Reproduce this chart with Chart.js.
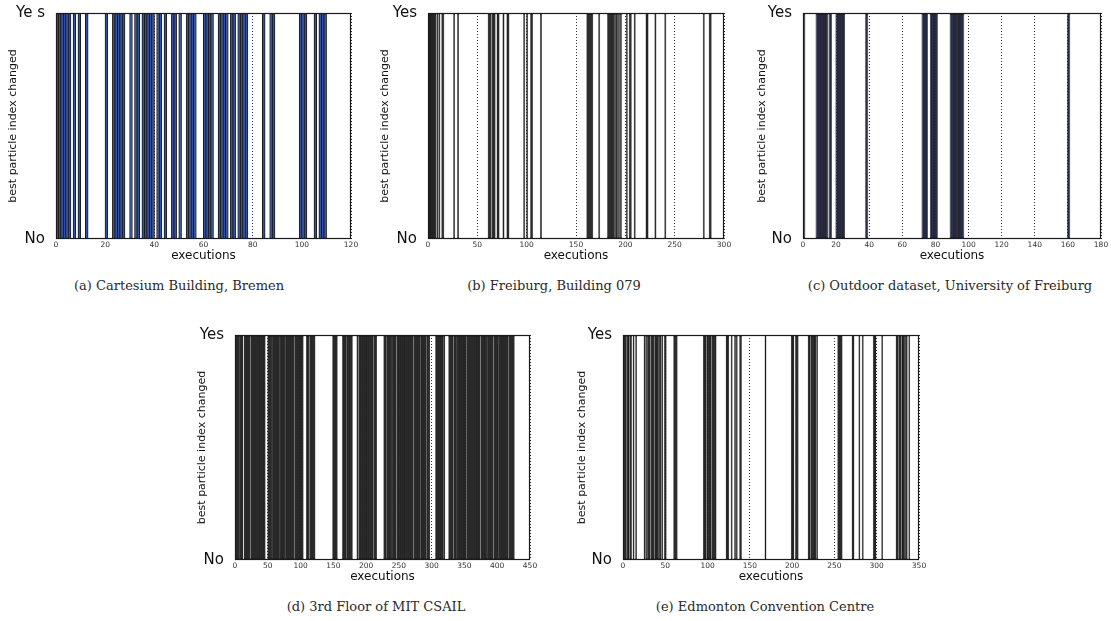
<!DOCTYPE html>
<html>
<head>
<meta charset="utf-8">
<script src="https://cdn.jsdelivr.net/npm/chart.js@4/dist/chart.umd.min.js"></script>
<style>
  body { margin: 0; width: 1111px; height: 621px; position: relative; overflow: hidden; background: #fff; }
  canvas { position: absolute; }
  .cap { position: absolute; font-family: "DejaVu Serif", serif; font-size: 13px; color: #2a2a2a; transform: translate(-50%, -50%); white-space: nowrap; }
</style>
</head>
<body>
<canvas id="chartA" width="367" height="264" style="left:-4px;top:1px"></canvas>
<canvas id="chartB" width="368" height="264" style="left:368px;top:1px"></canvas>
<canvas id="chartC" width="370" height="264" style="left:743px;top:1px"></canvas>
<canvas id="chartD" width="367" height="263" style="left:175px;top:323px"></canvas>
<canvas id="chartE" width="368" height="263" style="left:563px;top:323px"></canvas>

<div class="cap" style="left:179px;top:285px">(a) Cartesium Building, Bremen</div>
<div class="cap" style="left:554px;top:285px">(b) Freiburg, Building 079</div>
<div class="cap" style="left:950px;top:285px">(c) Outdoor dataset, University of Freiburg</div>
<div class="cap" style="left:376px;top:606px">(d) 3rd Floor of MIT CSAIL</div>
<div class="cap" style="left:765px;top:606px">(e) Edmonton Convention Centre</div>

<script>
// y tick labels (the first panel really says "Ye s")
const yLabels = ["No", "Yes"];
const yLabelsA = ["No", "Ye s"];

// executions where the best particle index changed
const cartesiumYes = [0,1,2,3,4,5,7,9,12,20,23,24,25,26,27,30,32,33,35,36,37,38,39,41,42,44,47,48,50,53,54,55,56,
  60,61,62,63,66,67,68,69,71,72,74,75,76,77,84,87,88,99,100,101,105,107,108,109];

const freiburgYes = [0,1,2,3,4,5,6,7,9,11,14,15,26,30,61,62,63,65,66,67,70,71,76,80,81,97,100,104,105,114,
  161,162,163,164,165,166,173,182,183,184,185,186,187,188,190,191,193,195,201,204,205,209,221,222,230,240,279,285,286];

const outdoorYes = [0,8,9,10,11,12,13,14,16,20,21,22,23,24,38,72,73,74,77,78,79,80,89,90,91,92,93,94,95,96,160];

const mitYes = [0,1,2,3,4,5,6,8,9,10,11,14,15,16,17,18,19,20,21,22,
  24,25,26,27,28,29,30,31,32,33,34,35,36,37,38,39,40,41,42,43,44,45,
  50,51,52,53,54,55,57,58,59,60,61,62,63,64,65,66,67,69,70,71,72,73,74,75,
  77,78,79,80,81,82,83,84,85,86,87,88,89,91,92,93,94,95,96,97,98,99,100,101,102,103,
  109,110,111,112,114,115,116,117,118,119,120,121,149,150,151,152,153,154,155,
  164,165,166,167,168,169,171,172,173,174,175,176,177,178,186,187,
  189,190,191,192,193,194,195,196,197,198,199,200,201,202,203,204,205,206,207,208,209,210,
  212,213,214,215,227,228,229,230,232,233,234,235,236,237,238,240,241,242,243,244,245,
  247,248,249,250,251,252,253,254,255,256,257,258,259,260,261,262,263,264,265,266,267,268,269,270,271,
  273,274,275,276,277,278,279,280,281,283,284,285,286,287,288,289,290,291,293,294,295,296,
  306,307,308,309,310,311,312,313,314,315,316,317,319,326,327,328,329,330,331,332,334,335,336,337,
  339,340,341,342,343,344,345,346,347,348,349,350,351,352,
  354,355,356,357,358,359,360,361,362,363,364,365,366,367,368,369,370,371,372,373,
  375,376,377,378,379,380,381,382,383,385,386,387,388,389,390,391,392,393,
  395,396,397,398,399,400,401,403,404,405,406,407,408,409,410,411,412,413,414,415,416,
  418,419,420,421,422,423,424,425];

const edmontonYes = [0,1,2,3,5,6,8,9,12,15,25,27,29,30,31,33,34,35,36,38,39,40,41,43,44,46,49,50,60,61,62,63,
  95,96,97,99,100,101,102,103,105,106,107,108,109,122,123,124,128,132,134,138,139,168,
  199,200,201,204,205,206,219,220,222,223,224,225,226,227,229,254,255,256,257,258,271,272,279,283,
  296,297,298,306,323,324,326,327,328,330,331,332,334,335,338];

Chart.defaults.font.family = "'DejaVu Sans', sans-serif";
Chart.defaults.animation = false;

// matplotlib style box round the plot area
const framePlugin = {
  id: "frame",
  afterDatasetsDraw(chart) {
    const { ctx, chartArea: a } = chart;
    ctx.save();
    ctx.strokeStyle = "#1a1a1a";
    ctx.lineWidth = 1.2;
    ctx.strokeRect(a.left + 0.5, a.top + 0.5, a.right - a.left - 1, a.bottom - a.top - 1);
    ctx.restore();
  }
};

// narrow bars look almost all edge in the original, so their fill is darker
function makeChart(id, yes, maxX, step, labels, titlePad, fill, inflate) {
  return new Chart(document.getElementById(id), {
    type: "bar",
    data: {
      datasets: [{
        // bar i covers the execution interval [i, i+1]
        data: yes.map(i => ({ x: i + 0.5, y: 1 })),
        backgroundColor: fill,
        borderColor: "#1b1b1b",
        borderWidth: 1,
        borderSkipped: false,
        inflateAmount: inflate,
        barPercentage: 1,
        categoryPercentage: 1
      }]
    },
    options: {
      responsive: false,
      devicePixelRatio: 1,
      layout: { padding: { top: 10, right: 12, left: 0, bottom: 0 } },
      plugins: { legend: { display: false }, tooltip: { enabled: false } },
      scales: {
        x: {
          type: "linear",
          min: 0,
          max: maxX,
          offset: false,
          grid: { color: "#000", lineWidth: 0.8, drawTicks: false, offset: false },
          border: { display: false, dash: [1, 2] },
          ticks: { stepSize: step, autoSkip: false, maxRotation: 0, padding: 2, color: "#333", font: { size: 7.5 } },
          title: { display: true, text: "executions", color: "#111", font: { size: 12 }, padding: { top: 0, bottom: 2 } },
          afterFit: s => { s.height = 26; }
        },
        y: {
          min: 0,
          max: 1,
          grid: { display: false },
          border: { display: false },
          ticks: { stepSize: 1, padding: 3, color: "#111", font: { size: 15 }, callback: v => labels[v] },
          title: { display: true, text: "best particle index changed", color: "#111", font: { size: 11 }, padding: { top: titlePad, bottom: 0 } },
          afterFit: s => { s.width = 60; }
        }
      }
    },
    plugins: [framePlugin]
  });
}

makeChart("chartA", cartesiumYes, 120, 20, yLabelsA, 11, "#3151a6", 0.5);
makeChart("chartB", freiburgYes, 300, 50, yLabels, 11, "#1e1e1e", 0.5);
makeChart("chartC", outdoorYes, 180, 20, yLabels, 13, "#232845", 0.7);
makeChart("chartD", mitYes, 450, 50, yLabels, 21, "#1e1e1e", 0.45);
makeChart("chartE", edmontonYes, 350, 50, yLabels, 13, "#1e1e1e", 0.5);
</script>
</body>
</html>
